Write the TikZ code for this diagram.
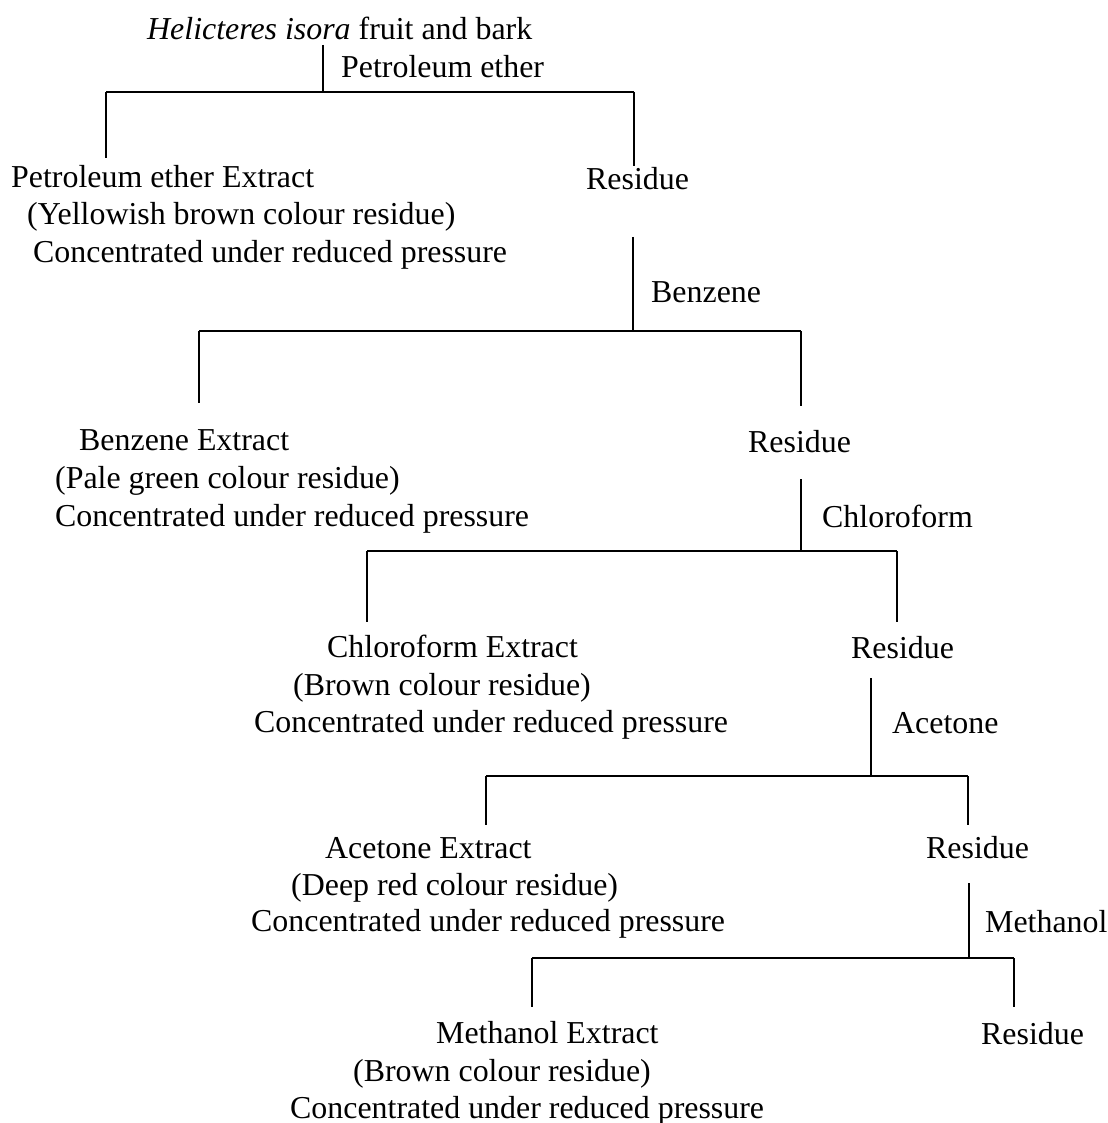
\documentclass[tikz,border=0pt]{standalone}
\usepackage{fontspec}
\setmainfont{Liberation Serif}
\usepackage{tikz}

\begin{document}
\begin{tikzpicture}[x=1pt, y=-1pt,
        every node/.style={font=\fontsize{31.9}{37}\selectfont}]
        \tikzstyle{textStyle} = [anchor=base west, inner sep=0pt]
        \tikzstyle{lineStyle} = [draw=black, line width=1.7pt]
        \useasboundingbox (0,0) rectangle (1107,1123);
        % texts
        \node[textStyle] (src) at (147,40) {\textit{Helicteres isora} fruit and bark};
        \node[textStyle] (s1) at (341,78) {Petroleum ether};
        \node[textStyle] (e1) at (11,188) {Petroleum ether Extract};
        \node[textStyle] (c1) at (27,225) {(Yellowish brown colour residue)};
        \node[textStyle] (p1) at (33,262) {Concentrated under reduced pressure};
        \node[textStyle] (r1) at (586,190) {Residue};
        \node[textStyle] (s2) at (651,302) {Benzene};
        \node[textStyle] (e2) at (79,450) {Benzene Extract};
        \node[textStyle] (c2) at (55,488) {(Pale green colour residue)};
        \node[textStyle] (p2) at (55,526) {Concentrated under reduced pressure};
        \node[textStyle] (r2) at (748,452) {Residue};
        \node[textStyle] (s3) at (822,527) {Chloroform};
        \node[textStyle] (e3) at (327,657) {Chloroform Extract};
        \node[textStyle] (c3) at (293,695) {(Brown colour residue)};
        \node[textStyle] (p3) at (254,732) {Concentrated under reduced pressure};
        \node[textStyle] (r3) at (851,658) {Residue};
        \node[textStyle] (s4) at (892,733) {Acetone};
        \node[textStyle] (e4) at (325,858) {Acetone Extract};
        \node[textStyle] (c4) at (291,895) {(Deep red colour residue)};
        \node[textStyle] (p4) at (251,931) {Concentrated under reduced pressure};
        \node[textStyle] (r4) at (926,858) {Residue};
        \node[textStyle] (s5) at (985,932) {Methanol};
        \node[textStyle] (e5) at (436,1043) {Methanol Extract};
        \node[textStyle] (c5) at (353,1081) {(Brown colour residue)};
        \node[textStyle] (p5) at (290,1118) {Concentrated under reduced pressure};
        \node[textStyle] (r5) at (981,1044) {Residue};
        % bracket points
        \coordinate (t1) at (323,45);   \coordinate (j1) at (323,92);
        \coordinate (l1) at (106,92);   \coordinate (r1top) at (634,92);
        \coordinate (lb1) at (106,158); \coordinate (rb1) at (634,166);
        \coordinate (t2) at (633,237);  \coordinate (j2) at (633,331);
        \coordinate (l2) at (199,331);  \coordinate (r2top) at (801,331);
        \coordinate (lb2) at (199,403); \coordinate (rb2) at (801,406);
        \coordinate (t3) at (801,479);  \coordinate (j3) at (801,551);
        \coordinate (l3) at (367,551);  \coordinate (r3top) at (897,551);
        \coordinate (lb3) at (367,622); \coordinate (rb3) at (897,622);
        \coordinate (t4) at (871,678);  \coordinate (j4) at (871,776);
        \coordinate (l4) at (486,776);  \coordinate (r4top) at (968,776);
        \coordinate (lb4) at (486,825); \coordinate (rb4) at (968,825);
        \coordinate (t5) at (969,883);  \coordinate (j5) at (969,958);
        \coordinate (l5) at (532,958);  \coordinate (r5top) at (1014,958);
        \coordinate (lb5) at (532,1007); \coordinate (rb5) at (1014,1007);
        \foreach \k in {1,...,5}
            \path[lineStyle] (t\k) edge (j\k)
                (l\k) edge (r\k top)
                (l\k) edge (lb\k)
                (r\k top) edge (rb\k);
    \end{tikzpicture}
\end{document}
